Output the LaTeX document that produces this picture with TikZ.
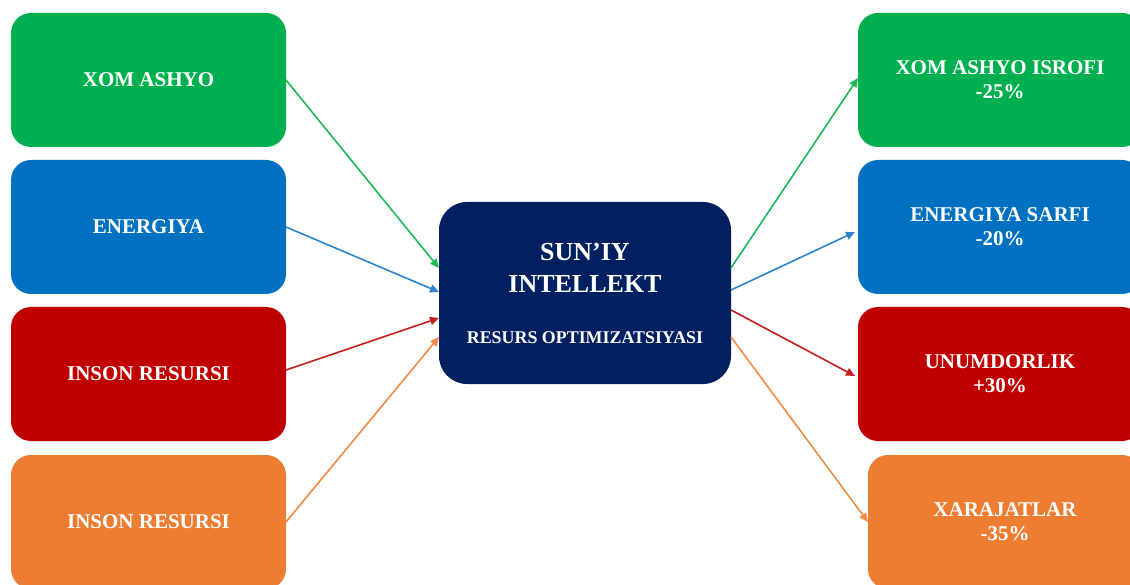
\documentclass[tikz,border=0pt]{standalone}
\usepackage{fontspec}
\setmainfont{Liberation Serif}
\usetikzlibrary{arrows.meta,calc}
\definecolor{cgreen}{HTML}{00B050}
\definecolor{cblue}{HTML}{0070C0}
\definecolor{cred}{HTML}{C00000}
\definecolor{corange}{HTML}{ED7D31}
\definecolor{cnavy}{HTML}{002060}
\definecolor{agreen}{HTML}{1DB954}
\definecolor{ablue}{HTML}{2A85CC}
\definecolor{ared}{HTML}{C41E1E}
\definecolor{aorange}{HTML}{F08A45}
\tikzset{
  box/.style={rounded corners=20pt, draw=none, inner sep=0pt, outer sep=0pt,
    minimum width=275pt, minimum height=134pt, text=white, align=center,
    font=\fontsize{21}{24}\selectfont\bfseries},
  rbox/.style={box, minimum width=284pt},
  ctrbox/.style={rounded corners=28pt, fill=cnavy, draw=none, inner sep=0pt, outer sep=0pt,
    minimum width=292pt, minimum height=182pt},
  ctext/.style={text=white, align=center, inner sep=0pt},
  conn/.style={line width=1.6pt, -{Triangle[length=9pt,width=8pt]}},
}
\begin{document}
\begin{tikzpicture}[x=1pt,y=-1pt]
\useasboundingbox (0,0) rectangle (1130,585);
\clip (0,0) rectangle (1130,585);
% left boxes
\node[box, fill=cgreen]  (l1) at (148.5,80)  {XOM ASHYO};
\node[box, fill=cblue]   (l2) at (148.5,227) {ENERGIYA};
\node[box, fill=cred]    (l3) at (148.5,374) {INSON RESURSI};
\node[box, fill=corange] (l4) at (148.5,522) {INSON RESURSI};
% right boxes
\node[rbox, fill=cgreen] (r1) at (1000,80)  {XOM ASHYO ISROFI\\-25\%};
\node[rbox, fill=cblue]  (r2) at (1000,227) {ENERGIYA SARFI\\-20\%};
\node[rbox, fill=cred]   (r3) at (1000,374) {UNUMDORLIK\\+30\%};
\node[rbox, fill=corange, minimum width=274pt] (r4) at (1005,522) {XARAJATLAR\\-35\%};
% center
\node[ctrbox] (c) at (585,293) {};
\node[ctext, font=\fontsize{26}{32}\selectfont\bfseries] (ct) at ($(c)+(0,-25)$) {SUN’IY\\INTELLEKT};
\node[ctext, font=\fontsize{17.9}{21}\selectfont\bfseries] (cs) at ($(c)+(0,45)$) {RESURS OPTIMIZATSIYASI};
% arrows in
\draw[conn, agreen]  (l1.east) -- ($(c.west)+(0,-25)$);
\draw[conn, ablue]   (l2.east) -- ($(c.west)+(0,-1)$);
\draw[conn, ared]    ($(l3.east)+(0,-4)$) -- ($(c.west)+(0,25)$);
\draw[conn, aorange] (l4.east) -- ($(c.west)+(0,44)$);
% arrows out
\draw[conn, agreen]  ($(c.east)+(0,-25)$) -- ($(r1.west)+(0,-2)$);
\draw[conn, ablue]   ($(c.east)+(0,-3)$)  -- ($(r2.west)+(-3,5)$);
\draw[conn, ared]    ($(c.east)+(0,17)$)  -- ($(r3.west)+(-3,2)$);
\draw[conn, aorange] ($(c.east)+(0,44)$)  -- (r4.west);
\end{tikzpicture}
\end{document}
